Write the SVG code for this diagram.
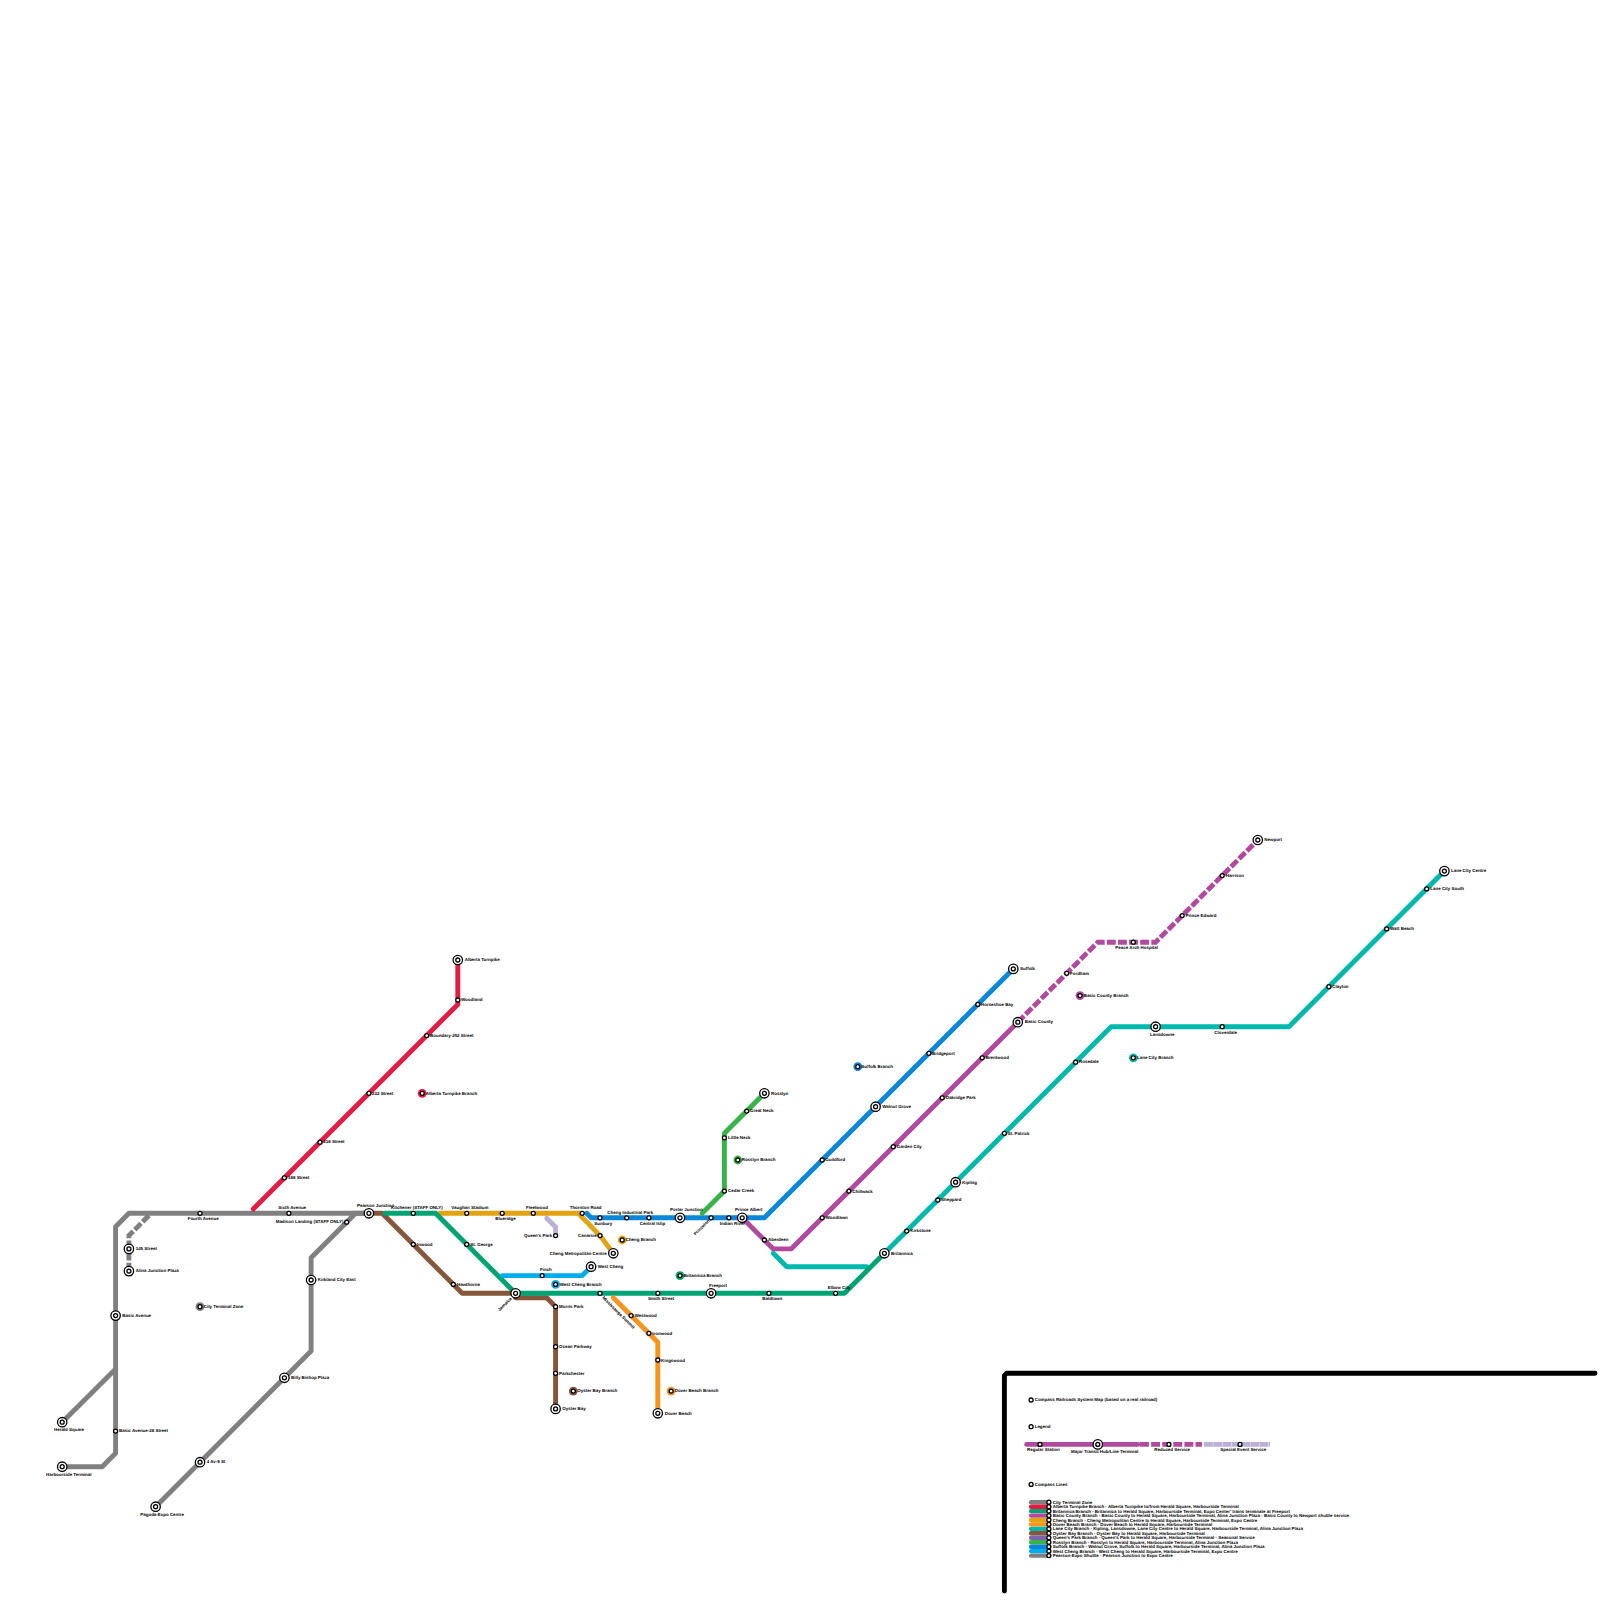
<svg xmlns="http://www.w3.org/2000/svg" width="1600" height="1600" viewBox="0 0 1600 1600">
<style>
text{font-family:"Liberation Sans",Arial,sans-serif;font-size:4.44px;fill:#000;font-weight:700;text-rendering:geometricPrecision}
.l{fill:none;stroke-width:4.9;stroke-linecap:round;stroke-linejoin:round}
.d{stroke-linecap:butt;stroke-dasharray:8.89 2.22;stroke-linejoin:miter}
.k{stroke-width:4.44}
.ring{stroke:#000;stroke-width:1.3;fill:#fff}
</style>
<defs>
<g id="st"><circle class="ring" r="2"/></g>
<g id="hub"><circle class="ring" r="4.7"/><circle class="ring" r="2"/></g>
</defs>
<rect width="1600" height="1600" fill="#fff"/>
<g id="connectors">
<path class="l" stroke="#000" d="M1004.4 1591V1375.5L1006.6 1373.3H1595"/>
<path class="l" stroke="#808080" d="M62.2 1466.7H102.2L115.6 1453.3V1226.7L128.9 1213.3H369"/>
<path class="l" stroke="#808080" d="M62.2 1422.2L115.6 1368.9"/>
<path class="l d" stroke="#808080" d="M148.9 1215.5L128.9 1235.6V1271.1"/>
<path class="l" stroke="#808080" d="M369 1213.3H355.6L311.1 1257.8V1351.1L155.6 1506.7"/>
<path class="l" stroke="#e31c44" d="M457.8 960V1004.4L253.3 1208.9"/>
<path class="l" stroke="#85563a" d="M369 1213.3H382.2L462.2 1293.3H515.6"/>
<path class="l" stroke="#85563a" d="M515.6 1297.8H546.7L555.6 1306.7V1408.9"/>
<path class="l" stroke="#e2a413" d="M440 1213.3H582.2"/>
<path class="l" stroke="#e2a413" d="M578.3 1213.3L600 1235.6L613.3 1253.3"/>
<path class="l" stroke="#0a87d8" d="M586.7 1213.3L591.1 1217.8H764.4L1013.3 968.9"/>
<path class="l" stroke="#37b34a" d="M702.2 1213.3L724.4 1191.1V1133.3L764.4 1093.3"/>
<path class="l" stroke="#b14a9e" d="M742.2 1217.8L773.3 1248.9H791.1L1017.8 1022.2"/>
<path class="l d" stroke="#b14a9e" d="M1017.8 1022.2L1097.8 942.2H1155.6L1257.8 840"/>
<path class="l" stroke="#00b8ac" d="M773.3 1253.3L786.7 1266.7H866.7"/>
<path class="l" stroke="#00b8ac" d="M884.4 1253.3L1111.1 1026.7H1288.9L1444.4 871.1"/>
<path class="l" stroke="#00a474" d="M385 1213.3H435.6L515.6 1293.3H844.4L884.4 1253.3"/>
<path class="l" stroke="#00aeef" d="M502.2 1275.6H582.2L591.1 1266.7"/>
<path class="l" stroke="#f7941e" d="M613.3 1297.8L657.8 1342.2V1413.3"/>
<path class="l" stroke="#bcb0d8" d="M546.7 1218.2L555.6 1227V1235.6"/>
<path class="l" stroke="#b14a9e" d="M1026.7 1444.4H1137.8"/>
<path class="l d" stroke="#b14a9e" d="M1140 1444.4H1202"/>
<path class="l d" stroke="#bcb0d8" style="stroke-dasharray:8.89 .4" d="M1204 1444.4H1270"/>
<path class="l k" stroke="#808080" d="M1031.1 1502.2H1048.9"/>
<path class="l k" stroke="#e31c44" d="M1031.1 1506.7H1048.9"/>
<path class="l k" stroke="#00a474" d="M1031.1 1511.1H1048.9"/>
<path class="l k" stroke="#b14a9e" d="M1031.1 1515.6H1048.9"/>
<path class="l k" stroke="#e2a413" d="M1031.1 1520H1048.9"/>
<path class="l k" stroke="#f7941e" d="M1031.1 1524.4H1048.9"/>
<path class="l k" stroke="#00b8ac" d="M1031.1 1528.9H1048.9"/>
<path class="l k" stroke="#85563a" d="M1031.1 1533.3H1048.9"/>
<path class="l k" stroke="#7e64ae" d="M1031.1 1537.8H1048.9"/>
<path class="l k" stroke="#37b34a" d="M1031.1 1542.2H1048.9"/>
<path class="l k" stroke="#0a87d8" d="M1031.1 1546.7H1048.9"/>
<path class="l k" stroke="#00aeef" d="M1031.1 1551.1H1048.9"/>
<path class="l k" stroke="#808080" d="M1031.1 1555.6H1048.9"/>
</g>
<g id="stations">
<g id="n-fourth"><use href="#st" x="200" y="1213.3"/><text x="187.7" y="1220">Fourth Avenue</text></g>
<g id="n-sixth"><use href="#st" x="288.9" y="1213.3"/><text x="278.3" y="1209">Sixth Avenue</text></g>
<g id="n-madison"><use href="#st" x="346.7" y="1222.2"/><text x="275.7" y="1223.4">Madison Landing (STAFF ONLY)</text></g>
<g id="n-pearson"><use href="#hub" x="368.9" y="1213.3"/><text x="357" y="1207">Pearson Junction</text></g>
<g id="n-145"><use href="#hub" x="128.9" y="1248.9"/><text x="135.7" y="1250">145 Street</text></g>
<g id="n-alina"><use href="#hub" x="128.9" y="1271.1"/><text x="135.7" y="1272.4">Alina Junction Plaza</text></g>
<g id="n-kirkland"><use href="#hub" x="311.1" y="1280"/><text x="317.7" y="1281">Kirkland City East</text></g>
<g id="n-cityzone"><circle cx="200" cy="1306.7" r="4.4" fill="#808080"/><use href="#st" x="200" y="1306.7"/><text x="203.7" y="1307.7">City Terminal Zone</text></g>
<g id="n-basicave"><use href="#hub" x="115.6" y="1315.6"/><text x="122.3" y="1316.7">Basic Avenue</text></g>
<g id="n-billy"><use href="#hub" x="284.4" y="1377.8"/><text x="291" y="1379">Billy Bishop Plaza</text></g>
<g id="n-herald"><use href="#hub" x="62.2" y="1422.2"/><text x="54" y="1431">Herald Square</text></g>
<g id="n-basic28"><use href="#st" x="115.6" y="1431.1"/><text x="119" y="1432.4">Basic Avenue-28 Street</text></g>
<g id="n-4av"><use href="#hub" x="200" y="1462.2"/><text x="206.7" y="1463.4">4 Av-9 St</text></g>
<g id="n-harbour"><use href="#hub" x="62.2" y="1466.7"/><text x="46" y="1475.7">Harbourside Terminal</text></g>
<g id="n-pagoda"><use href="#hub" x="155.6" y="1506.7"/><text x="140.3" y="1515.7">Pagoda-Expo Centre</text></g>
<g id="n-alberta"><use href="#hub" x="457.8" y="960"/><text x="464.7" y="961.4">Alberta Turnpike</text></g>
<g id="n-woodland"><use href="#st" x="457.8" y="1000"/><text x="461" y="1001">Woodland</text></g>
<g id="n-boundary"><use href="#st" x="426.7" y="1035.6"/><text x="430" y="1036.7">Boundary-252 Street</text></g>
<g id="n-232"><use href="#st" x="368.9" y="1093.3"/><text x="372" y="1094.7">232 Street</text></g>
<g id="n-albertab"><circle cx="422.2" cy="1093.3" r="4.4" fill="#e31c44"/><use href="#st" x="422.2" y="1093.3"/><text x="425.7" y="1094.7">Alberta Turnpike Branch</text></g>
<g id="n-216"><use href="#st" x="320" y="1142.2"/><text x="323.3" y="1143.4">216 Street</text></g>
<g id="n-188"><use href="#st" x="284.4" y="1177.8"/><text x="288" y="1179">188 Street</text></g>
<g id="n-kitchener"><use href="#st" x="413.3" y="1213.3"/><text x="391" y="1209">Kitchener (STAFF ONLY)</text></g>
<g id="n-vaughan"><use href="#st" x="466.7" y="1213.3"/><text x="451.3" y="1209">Vaughan Stadium</text></g>
<g id="n-blueridge"><use href="#st" x="502.2" y="1213.3"/><text x="495.3" y="1220">Blueridge</text></g>
<g id="n-fleetwood"><use href="#st" x="533.3" y="1213.3"/><text x="526" y="1209">Fleetwood</text></g>
<g id="n-thornton"><use href="#st" x="582.2" y="1213.3"/><text x="569.7" y="1209">Thornton Road</text></g>
<g id="n-sunbury"><use href="#st" x="600" y="1217.8"/><text x="594.3" y="1224.7">Sunbury</text></g>
<g id="n-chengind"><use href="#st" x="626.7" y="1217.8"/><text x="607.3" y="1213.7">Cheng Industrial Park</text></g>
<g id="n-central"><use href="#st" x="648.9" y="1217.8"/><text x="639.7" y="1224.7">Central Islip</text></g>
<g id="n-porter"><use href="#hub" x="680" y="1217.8"/><text x="670" y="1211">Porter Junction</text></g>
<g id="n-princeton"><use href="#st" x="711.1" y="1217.8"/><text transform="translate(710 1221) rotate(-45)" text-anchor="end">Princeton</text></g>
<g id="n-indian"><use href="#st" x="728.9" y="1217.8"/><text x="719.7" y="1224.7">Indian River</text></g>
<g id="n-prince"><use href="#hub" x="742.2" y="1217.8"/><text x="735" y="1211">Prince Albert</text></g>
<g id="n-queens"><use href="#st" x="555.6" y="1235.6"/><text x="524" y="1236.7">Queen's Park</text></g>
<g id="n-canarsie"><use href="#st" x="600" y="1235.6"/><text x="578" y="1236.7">Canarsie</text></g>
<g id="n-chengb"><circle cx="622.2" cy="1240" r="4.4" fill="#e2a413"/><use href="#st" x="622.2" y="1240"/><text x="625.7" y="1241.4">Cheng Branch</text></g>
<g id="n-stgeorge"><use href="#st" x="466.7" y="1244.4"/><text x="470.3" y="1245.7">St. George</text></g>
<g id="n-inwood"><use href="#st" x="413.3" y="1244.4"/><text x="417" y="1245.7">Inwood</text></g>
<g id="n-metro"><use href="#hub" x="613.3" y="1253.3"/><text x="549.7" y="1254.7">Cheng Metropolitan Centre</text></g>
<g id="n-westcheng"><use href="#hub" x="591.1" y="1266.7"/><text x="597.7" y="1268">West Cheng</text></g>
<g id="n-finch"><use href="#st" x="542.2" y="1275.6"/><text x="540" y="1271">Finch</text></g>
<g id="n-hawthorne"><use href="#st" x="453.3" y="1284.4"/><text x="457" y="1285.7">Hawthorne</text></g>
<g id="n-westchengb"><circle cx="555.6" cy="1284.4" r="4.4" fill="#00aeef"/><use href="#st" x="555.6" y="1284.4"/><text x="559.7" y="1285.7">West Cheng Branch</text></g>
<g id="n-jamaica"><use href="#hub" x="515.6" y="1293.3"/><text transform="translate(512 1299) rotate(-45)" text-anchor="end">Jamaica</text></g>
<g id="n-morris"><use href="#st" x="555.6" y="1306.7"/><text x="559" y="1307.7">Morris Park</text></g>
<g id="n-ocean"><use href="#st" x="555.6" y="1346.7"/><text x="559" y="1347.7">Ocean Parkway</text></g>
<g id="n-parkchester"><use href="#st" x="555.6" y="1373.3"/><text x="559" y="1374.7">Parkchester</text></g>
<g id="n-oysterb"><circle cx="573.3" cy="1391.1" r="4.4" fill="#85563a"/><use href="#st" x="573.3" y="1391.1"/><text x="577.3" y="1392.4">Oyster Bay Branch</text></g>
<g id="n-oyster"><use href="#hub" x="555.6" y="1408.9"/><text x="562.3" y="1410.4">Oyster Bay</text></g>
<g id="n-miss"><use href="#st" x="600" y="1293.3"/><text transform="translate(602 1298) rotate(45)">Mississauga Summit</text></g>
<g id="n-smith"><use href="#st" x="657.8" y="1293.3"/><text x="648" y="1300">Smith Street</text></g>
<g id="n-freeport"><use href="#hub" x="711.1" y="1293.3"/><text x="709" y="1286.7">Freeport</text></g>
<g id="n-baldtown"><use href="#st" x="768.9" y="1293.3"/><text x="762.3" y="1300">Baldtown</text></g>
<g id="n-elbow"><use href="#st" x="835.6" y="1293.3"/><text x="827.7" y="1289">Elbow City</text></g>
<g id="n-britb"><circle cx="680" cy="1275.6" r="4.4" fill="#00a474"/><use href="#st" x="680" y="1275.6"/><text x="683.7" y="1276.7">Britannica Branch</text></g>
<g id="n-westwood"><use href="#st" x="631.1" y="1315.6"/><text x="634.7" y="1316.7">Westwood</text></g>
<g id="n-ironwood"><use href="#st" x="648.9" y="1333.3"/><text x="652.3" y="1334.7">Ironwood</text></g>
<g id="n-kingswood"><use href="#st" x="657.8" y="1360"/><text x="661" y="1361.7">Kingswood</text></g>
<g id="n-doverb"><circle cx="671.1" cy="1391.1" r="4.4" fill="#f7941e"/><use href="#st" x="671.1" y="1391.1"/><text x="674.7" y="1392.4">Dover Beach Branch</text></g>
<g id="n-dover"><use href="#hub" x="657.8" y="1413.3"/><text x="664.7" y="1414.7">Dover Beach</text></g>
<g id="n-cedar"><use href="#st" x="724.4" y="1191.1"/><text x="728" y="1192.4">Cedar Creek</text></g>
<g id="n-little"><use href="#st" x="724.4" y="1137.8"/><text x="728" y="1139">Little Neck</text></g>
<g id="n-great"><use href="#st" x="746.7" y="1111.1"/><text x="750" y="1112.4">Great Neck</text></g>
<g id="n-rosslyn"><use href="#hub" x="764.4" y="1093.3"/><text x="771" y="1094.7">Rosslyn</text></g>
<g id="n-rosslynb"><circle cx="737.8" cy="1160" r="4.4" fill="#37b34a"/><use href="#st" x="737.8" y="1160"/><text x="741.7" y="1161.4">Rosslyn Branch</text></g>
<g id="n-guildford"><use href="#st" x="822.2" y="1160"/><text x="825.3" y="1161.4">Guildford</text></g>
<g id="n-walnut"><use href="#hub" x="875.6" y="1106.7"/><text x="882.3" y="1107.7">Walnut Grove</text></g>
<g id="n-suffolkb"><circle cx="857.8" cy="1066.7" r="4.4" fill="#0a87d8"/><use href="#st" x="857.8" y="1066.7"/><text x="861.3" y="1067.7">Suffolk Branch</text></g>
<g id="n-bridgeport"><use href="#st" x="928.9" y="1053.3"/><text x="932" y="1054.7">Bridgeport</text></g>
<g id="n-horseshoe"><use href="#st" x="977.8" y="1004.4"/><text x="981" y="1005.7">Horseshoe Bay</text></g>
<g id="n-suffolk"><use href="#hub" x="1013.3" y="968.9"/><text x="1020" y="970">Suffolk</text></g>
<g id="n-aberdeen"><use href="#st" x="764.4" y="1240"/><text x="768" y="1241.4">Aberdeen</text></g>
<g id="n-woodlawn"><use href="#st" x="822.2" y="1217.8"/><text x="825.7" y="1219.4">Woodlawn</text></g>
<g id="n-chillwack"><use href="#st" x="848.9" y="1191.1"/><text x="852.3" y="1192.7">Chillwack</text></g>
<g id="n-garden"><use href="#st" x="893.3" y="1146.7"/><text x="896.7" y="1147.7">Garden City</text></g>
<g id="n-oakridge"><use href="#st" x="942.2" y="1097.8"/><text x="945.7" y="1098.7">Oakridge Park</text></g>
<g id="n-brentwood"><use href="#st" x="982.2" y="1057.8"/><text x="985.7" y="1058.7">Brentwood</text></g>
<g id="n-basic"><use href="#hub" x="1017.8" y="1022.2"/><text x="1024.7" y="1023.4">Basic County</text></g>
<g id="n-fordham"><use href="#st" x="1066.7" y="973.3"/><text x="1070" y="974.7">Fordham</text></g>
<g id="n-basicb"><circle cx="1080" cy="995.6" r="4.4" fill="#b14a9e"/><use href="#st" x="1080" y="995.6"/><text x="1083.7" y="996.7">Basic County Branch</text></g>
<g id="n-peace"><use href="#st" x="1133.3" y="942.2"/><text x="1115.3" y="948.7">Peace Arch Hospital</text></g>
<g id="n-princeed"><use href="#st" x="1182.2" y="915.6"/><text x="1185.7" y="916.7">Prince Edward</text></g>
<g id="n-harrison"><use href="#st" x="1222.2" y="875.6"/><text x="1225.7" y="876.7">Harrison</text></g>
<g id="n-newport"><use href="#hub" x="1257.8" y="840"/><text x="1264.3" y="841.4">Newport</text></g>
<g id="n-britannica"><use href="#hub" x="884.4" y="1253.3"/><text x="891" y="1254.7">Britannica</text></g>
<g id="n-kirkstone"><use href="#st" x="906.7" y="1231.1"/><text x="910.3" y="1232.4">Kirkstone</text></g>
<g id="n-sheppard"><use href="#st" x="937.8" y="1200"/><text x="941" y="1201">Sheppard</text></g>
<g id="n-kipling"><use href="#hub" x="955.6" y="1182.2"/><text x="962" y="1183.7">Kipling</text></g>
<g id="n-patrick"><use href="#st" x="1004.4" y="1133.3"/><text x="1007.7" y="1134.7">St. Patrick</text></g>
<g id="n-rosedale"><use href="#st" x="1075.6" y="1062.2"/><text x="1079" y="1063.4">Rosedale</text></g>
<g id="n-lansdowne"><use href="#hub" x="1155.6" y="1026.7"/><text x="1150" y="1035.7">Lansdowne</text></g>
<g id="n-laneb"><circle cx="1133.3" cy="1057.8" r="4.4" fill="#00b8ac"/><use href="#st" x="1133.3" y="1057.8"/><text x="1137" y="1059">Lane City Branch</text></g>
<g id="n-cloverdale"><use href="#st" x="1222.2" y="1026.7"/><text x="1214.3" y="1033.7">Cloverdale</text></g>
<g id="n-clayton"><use href="#st" x="1328.9" y="986.7"/><text x="1332.3" y="988">Clayton</text></g>
<g id="n-watt"><use href="#st" x="1386.7" y="928.9"/><text x="1390" y="930">Watt Beach</text></g>
<g id="n-lanesouth"><use href="#st" x="1426.7" y="888.9"/><text x="1430.3" y="890">Lane City South</text></g>
<g id="n-lanecentre"><use href="#hub" x="1444.4" y="871.1"/><text x="1451" y="872.4">Lane City Centre</text></g>
</g>
<g id="legend">
<g id="lg-title"><use href="#st" x="1031.1" y="1400"/><text x="1034.7" y="1401.2">Compass Railroads System Map (based on a real railroad)</text></g>
<g id="lg-legend"><use href="#st" x="1031.1" y="1426.7"/><text x="1034.7" y="1427.7">Legend</text></g>
<g id="lg-regular"><use href="#st" x="1040" y="1444.4"/><text x="1027" y="1451.2">Regular Station</text></g>
<g id="lg-major"><use href="#hub" x="1097.8" y="1444.4"/><text x="1071" y="1453.4">Major Transit Hub/Line Terminal</text></g>
<g id="lg-reduced"><use href="#st" x="1168.9" y="1444.4"/><text x="1154.3" y="1451.2">Reduced Service</text></g>
<g id="lg-special"><use href="#st" x="1240" y="1444.4"/><text x="1220.3" y="1451.2">Special Event Service</text></g>
<g id="lg-lines"><use href="#st" x="1031.1" y="1484.4"/><text x="1034.7" y="1485.7">Compass Lines</text></g>
<g id="lg-1"><use href="#st" x="1048.9" y="1502.2"/><text x="1052.7" y="1503.7">City Terminal Zone</text></g>
<g id="lg-2"><use href="#st" x="1048.9" y="1506.7"/><text x="1052.7" y="1508.2">Alberta Turnpike Branch - Alberta Turnpike to/from Herald Square, Harbourside Terminal</text></g>
<g id="lg-3"><use href="#st" x="1048.9" y="1511.1"/><text x="1052.7" y="1512.6">Britannica Branch - Britannica to Herald Square, Harbourside Terminal, Expo Center' trains terminate at Freeport</text></g>
<g id="lg-4"><use href="#st" x="1048.9" y="1515.6"/><text x="1052.7" y="1517.1">Basic County Branch - Basic County to Herald Square, Harbourside Terminal, Alina Junction Plaza - Basic County to Newport shuttle service</text></g>
<g id="lg-5"><use href="#st" x="1048.9" y="1520"/><text x="1052.7" y="1521.5">Cheng Branch - Cheng Metropolitan Centre to Herald Square, Harbourside Terminal, Expo Centre</text></g>
<g id="lg-6"><use href="#st" x="1048.9" y="1524.4"/><text x="1052.7" y="1525.9">Dover Beach Branch - Dover Beach to Herald Square, Harbourside Terminal</text></g>
<g id="lg-7"><use href="#st" x="1048.9" y="1528.9"/><text x="1052.7" y="1530.4">Lane City Branch - Kipling, Lansdowne, Lane City Centre to Herald Square, Harbourside Terminal, Alina Junction Plaza</text></g>
<g id="lg-8"><use href="#st" x="1048.9" y="1533.3"/><text x="1052.7" y="1534.8">Oyster Bay Branch - Oyster Bay to Herald Square, Harbourside Terminal</text></g>
<g id="lg-9"><use href="#st" x="1048.9" y="1537.8"/><text x="1052.7" y="1539.3">Queen's Park Branch - Queen's Park to Herald Square, Harbourside Terminal - Seasonal Service</text></g>
<g id="lg-10"><use href="#st" x="1048.9" y="1542.2"/><text x="1052.7" y="1543.7">Rosslyn Branch - Rosslyn to Herald Square, Harbourside Terminal, Alina Junction Plaza</text></g>
<g id="lg-11"><use href="#st" x="1048.9" y="1546.7"/><text x="1052.7" y="1548.2">Suffolk Branch - Walnut Grove, Suffolk to Herald Square, Harbourside Terminal, Alina Junction Plaza</text></g>
<g id="lg-12"><use href="#st" x="1048.9" y="1551.1"/><text x="1052.7" y="1552.6">West Cheng Branch - West Cheng to Herald Square, Harbourside Terminal, Expo Centre</text></g>
<g id="lg-13"><use href="#st" x="1048.9" y="1555.6"/><text x="1052.7" y="1557.1">Pearson-Expo Shuttle - Pearson Junction to Expo Centre</text></g>
</g>
</svg>
